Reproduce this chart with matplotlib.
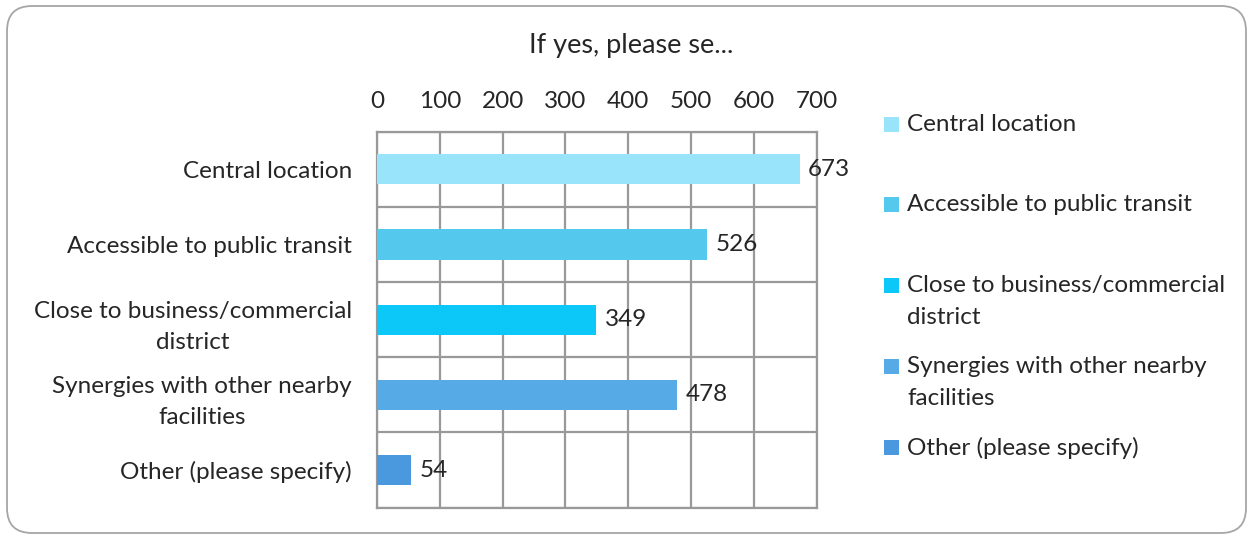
import matplotlib
matplotlib.use("Agg")
import matplotlib.pyplot as plt
from matplotlib.patches import FancyBboxPatch, Rectangle
import numpy as np

# chart data
categories = ["Central location", "Accessible to public transit",
              "Close to business/commercial\ndistrict",
              "Synergies with other nearby\nfacilities", "Other (please specify)"]
values = [673, 526, 349, 478, 54]
colors = ["#99e3fb", "#55c8ee", "#0bc8f8", "#56aae6", "#4a98de"]
xticks = [0, 100, 200, 300, 400, 500, 600, 700]
title = "If yes, please se..."

plt.rcParams['font.family'] = ['Lato', 'DejaVu Sans']
W, H = 1253, 539
FS = 17.5
fig = plt.figure(figsize=(W / 100, H / 100), dpi=100)

# rounded border round the whole chart
border = FancyBboxPatch((0.07, 0.06), 12.39, 5.27,
                        boxstyle="round,pad=0,rounding_size=0.25",
                        transform=fig.dpi_scale_trans, fill=False,
                        edgecolor="#a6a6a6", linewidth=1.3)
fig.patches.append(border)

ax = fig.add_axes([377 / W, 1 - 507.7 / H, (816.7 - 377) / W, (507.7 - 131.7) / H])
y = np.arange(len(categories))
ax.barh(y, values, height=0.4, color=colors, zorder=3)
ax.set_xlim(0, 700)
ax.set_ylim(len(categories) - 0.5, -0.5)
ax.set_xticks(xticks)
ax.set_xticklabels([str(t) for t in xticks])
ax.set_yticks(y)
ax.set_yticklabels(categories, multialignment="center", linespacing=1.62)
ax.set_yticks(np.arange(len(categories) + 1) - 0.5, minor=True)
ax.tick_params(axis="x", top=True, labeltop=True, bottom=False, labelbottom=False,
               length=0, pad=14, labelsize=FS, labelcolor="#262626")
ax.tick_params(axis="y", which="both", length=0, pad=18, labelsize=FS, labelcolor="#262626")
ax.grid(axis="x", color="#999999", linewidth=1.6, zorder=0)
ax.grid(axis="y", which="minor", color="#999999", linewidth=1.6, zorder=0)
for s in ax.spines.values():
    s.set_color("#999999")
    s.set_linewidth(1.6)

for yi, v in zip(y, values):
    ax.annotate(str(v), (v, yi), xytext=(6, 0), textcoords="offset points",
                va="center", ha="left", fontsize=FS, color="#262626", zorder=4)

fig.text(631 / W, 1 - 45 / H, title, ha="center", va="center", fontsize=19.5, color="#262626")

# legend drawn by hand: equal spacing per entry
leg_y = [124, 204, 285, 366, 447]
for yy, lab, c in zip(leg_y, categories, colors):
    fig.patches.append(Rectangle((884 / W, 1 - (yy + 8) / H), 15 / W, 15 / H,
                                 transform=fig.transFigure, facecolor=c, edgecolor="none"))
    fig.text(907 / W, 1 - (yy - 10) / H, lab, ha="left", va="top",
             fontsize=FS, color="#262626", linespacing=1.62)

fig.savefig("out.png", dpi=100)
